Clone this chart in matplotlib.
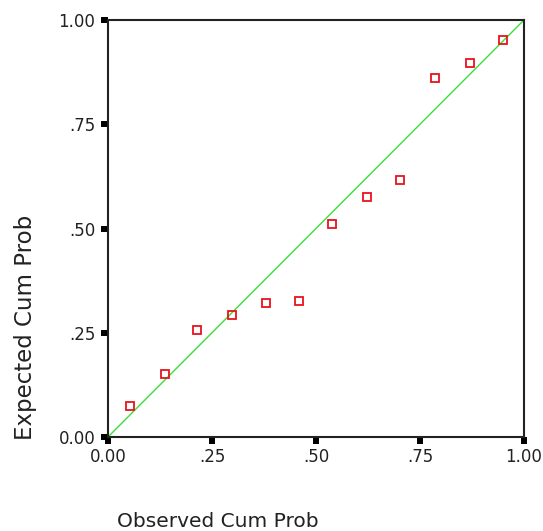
import matplotlib
matplotlib.use("Agg")
import matplotlib.pyplot as plt

observed = [0.053, 0.137, 0.213, 0.298, 0.381, 0.460, 0.539, 0.622, 0.702, 0.786, 0.869, 0.949]
expected = [0.074, 0.151, 0.257, 0.292, 0.321, 0.327, 0.511, 0.576, 0.616, 0.860, 0.896, 0.952]
ref_line = [0.0, 1.0]
tick_vals = [0.0, 0.25, 0.5, 0.75, 1.0]
tick_labels = ["0.00", ".25", ".50", ".75", "1.00"]

plt.rcParams['font.family'] = ['DejaVu Sans']

fig = plt.figure(figsize=(5.43, 5.31), dpi=100)
ax = fig.add_axes([108/543, 1-437/531, 416/543, 417/531])

ax.plot(ref_line, ref_line, color='#3ade3a', lw=1.0, zorder=2)
ax.plot(observed, expected, linestyle='none', marker='s', ms=6, mew=1.3,
        mec='#e8141c', mfc='none', zorder=3)

ax.set_xlim(0, 1)
ax.set_ylim(0, 1)
ax.set_xticks(tick_vals)
ax.set_xticklabels(tick_labels)
ax.set_yticks(tick_vals)
ax.set_yticklabels(tick_labels)
ax.tick_params(direction='out', length=5, width=4.3, color='black',
               labelsize=12, labelcolor='#222222')
ax.tick_params(axis='x', pad=3)
ax.tick_params(axis='y', pad=4)
for s in ax.spines.values():
    s.set_linewidth(1.5)
    s.set_color('#222222')

fig.text(218/543, 1-527/531, "Observed Cum Prob", ha='center', va='baseline',
         fontsize=14.5, color='#222222')
fig.text(26/543, 1-327/531, "Expected Cum Prob", ha='center', va='center',
         rotation=90, fontsize=16.5, color='#222222')

fig.savefig("out.png", dpi=100)
